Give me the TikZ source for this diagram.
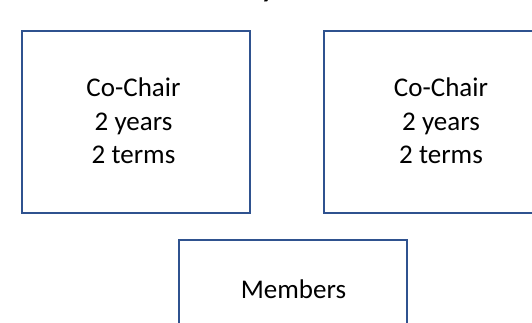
\documentclass[tikz,border=0pt]{standalone}
\usepackage{fontspec}
\setmainfont{Carlito}
\definecolor{boxblue}{HTML}{2F528F}
\begin{document}
\begin{tikzpicture}[x=1pt,y=-1pt,
  roleframe/.style={draw=boxblue,line width=2pt},
  roletext/.style={align=center,inner sep=0pt,font=\fontsize{27}{33.3}\selectfont}]
\useasboundingbox (0,0) rectangle (532,322);
\node[inner sep=0pt,anchor=base,font=\bfseries\fontsize{28}{34}\selectfont] (title) at (268,-3) {y};
\draw[roleframe] (22,31) rectangle (249.5,213);
\draw[roleframe] (323.5,31) rectangle (551,213);
\draw[roleframe] (179,240) rectangle (407,340);
\node[roletext] (chairA) at (133.5,121) {Co-Chair\\2 years\\2 terms};
\node[roletext] (chairB) at (441,121) {Co-Chair\\2 years\\2 terms};
\node[roletext,anchor=base] (members) at (293.5,298) {Members};
\end{tikzpicture}
\end{document}
